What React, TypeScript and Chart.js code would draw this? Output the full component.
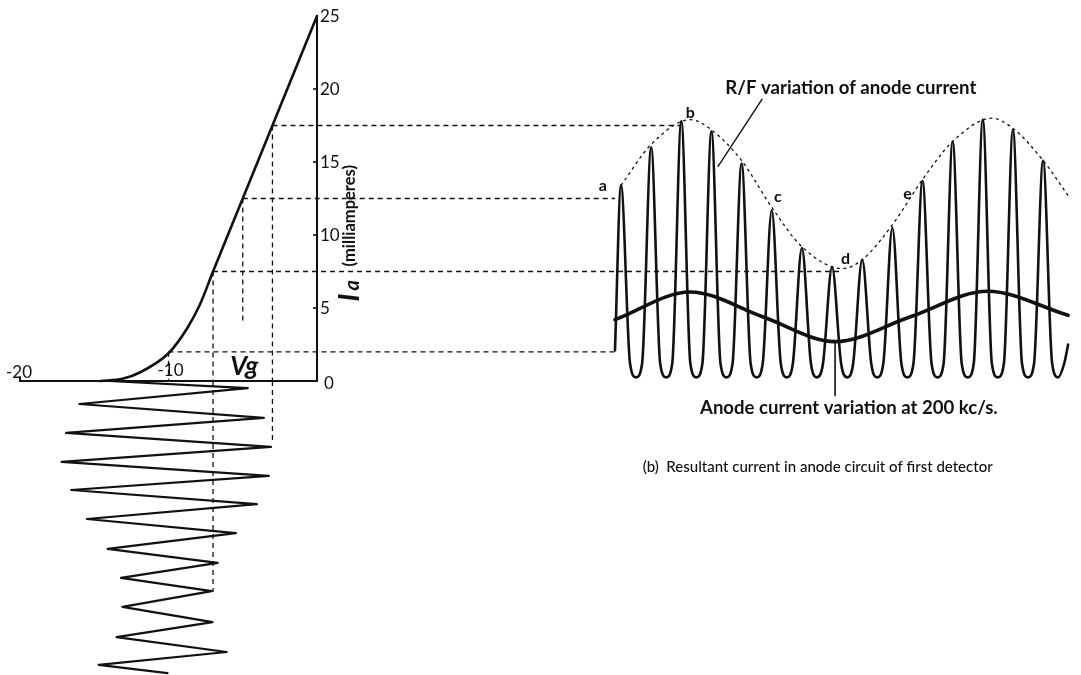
import React, { useEffect, useRef } from "react";
import { Chart, registerables } from "chart.js";
Chart.register(...registerables);

const W = 1081;
const H = 675;

// ---------- Left: mutual characteristic Ia (mA) against Vg (volts) ----------
const charVg = [-14.6, -13.1, -11.9, -10.0, -8.75, -7.9, -7.0, -5.0, -3.0, 0];
const charIa = [0, 0.15, 0.6, 1.9, 3.6, 5.2, 7.5, 12.5, 17.5, 25];

const yTickValues = [0, 5, 10, 15, 20, 25];
const yTickLabels = ["0", "5", "10", "15", "20", "25"];
const xTickValues = [-20, -10];
const xTickLabels = ["-20", "-10"];

// ---------- Grid-voltage input (zig-zag), time in carrier cycles downwards ----------
const zigStartVg = -14.0;
const zigStartT = 0.0;
const zigRightT = [0.24, 1.26, 2.25, 3.24, 4.2, 5.19, 6.21, 7.17, 8.23, 9.25];
const zigRightVg = [-4.66, -3.58, -3.1, -3.24, -4.05, -5.47, -6.69, -7.09, -7.03, -6.08];
const zigLeftT = [0.785, 1.77, 2.76, 3.72, 4.71, 5.73, 6.72, 7.71, 8.74, 9.69];
const zigLeftVg = [-16.0, -16.9, -17.2, -16.55, -15.5, -14.1, -13.2, -13.1, -13.5, -14.7];
const zigEndVg = -10.07;
const zigEndT = 9.97;

// ---------- Right: resultant anode current, time in carrier cycles ----------
const pulseT = [0, 1, 2, 3, 4, 5, 6, 7, 8, 9, 10, 11, 12, 13, 14];
const pulsePeakIa = [13.4, 16.0, 17.8, 17.1, 14.9, 11.7, 9.1, 7.8, 8.3, 10.5, 13.7, 16.4, 17.9, 17.2, 15.1];
const kneeOffsets = [0.3, 0.5, 0.7];
const kneeIa = [1.2, 0.25, 1.2];
const waveStartT = -0.2;
const waveStartIa = 2.1;
const waveEndT = 14.83;
const waveEndIa = 2.5;

// R/F envelope (dotted)
const envT = [0, 1, 2.3, 3, 4, 5, 6, 7.35, 8, 9, 10, 11, 12.3, 13, 14, 14.83];
const envIa = [13.4, 16.2, 17.9, 17.2, 15.1, 11.9, 9.2, 7.7, 8.3, 10.7, 13.8, 16.4, 18.0, 17.3, 15.1, 12.7];

// Mean anode current at 200 kc/s (thick)
const meanT = [-0.2, 2.3, 4.7, 7.1, 9.6, 12.15, 14.83];
const meanIa = [4.2, 6.1, 4.4, 2.7, 4.4, 6.15, 4.5];

// Projection lines
const hConnIa = [17.5, 12.5, 7.5, 2.0];
const hConnStartVg = [-3, -5, -7, -10];
const hConnEndT = [1.95, -0.2, 7.3, -0.2];
const vConnVg = [-3, -5, -7, -10];
const vConnTopIa = [17.5, 12.5, 7.5, 2.0];
const vConnBottomIa = [0, 3.9, 0, 0];
const vConnZigT = [2.08, null, 7.2, null];

// Pointers (label leaders)
const rfPointerT = [4.68, 3.22];
const rfPointerIa = [19.3, 14.7];
const meanPointerT = [7.1, 7.1];
const meanPointerIa = [2.7, -1.0];

// Letters on the envelope
const letterText = ["a", "b", "c", "d", "e"];
const letterT = [-0.6, 2.3, 5.2, 7.45, 9.5];
const letterIa = [13.4, 18.4, 12.6, 8.4, 12.8];

const INK = "#111111";
const FONT = "Lato, 'DejaVu Sans', sans-serif";

function buildWave() {
  const pts: { x: number; y: number }[] = [{ x: waveStartT, y: waveStartIa }];
  pulseT.forEach((t, i) => {
    pts.push({ x: t, y: pulsePeakIa[i] });
    kneeOffsets.forEach((o, j) => pts.push({ x: t + o, y: kneeIa[j] }));
  });
  pts.push({ x: waveEndT, y: waveEndIa });
  return pts;
}

function buildZig() {
  const pts: { x: number; y: number }[] = [{ x: zigStartVg, y: zigStartT }];
  zigRightT.forEach((t, i) => {
    pts.push({ x: zigRightVg[i], y: t });
    pts.push({ x: zigLeftVg[i], y: zigLeftT[i] });
  });
  pts.push({ x: zigEndVg, y: zigEndT });
  return pts;
}

function fillFit(ctx: CanvasRenderingContext2D, text: string, x: number, y: number, width: number, weight: string) {
  ctx.font = `${weight} 20px ${FONT}`;
  const w = ctx.measureText(text).width;
  const size = (20 * width) / w;
  ctx.font = `${weight} ${size.toFixed(2)}px ${FONT}`;
  ctx.fillText(text, x, y);
}

const annotPlugin = {
  id: "annot",
  beforeDatasetsDraw(chart: any) {
    const ctx = chart.ctx;
    const xV = chart.scales.xV, yI = chart.scales.yI, xT = chart.scales.xT;
    ctx.save();
    ctx.strokeStyle = INK;
    ctx.lineWidth = 1.3;
    ctx.setLineDash([5, 4]);
    hConnIa.forEach((lv, i) => {
      const y = yI.getPixelForValue(lv);
      ctx.beginPath();
      ctx.moveTo(xV.getPixelForValue(hConnStartVg[i]), y);
      ctx.lineTo(xT.getPixelForValue(hConnEndT[i]), y);
      ctx.stroke();
    });
    ctx.setLineDash([]);
    // small tick marks on the Ia axis
    ctx.lineWidth = 1.6;
    yTickValues.forEach((v) => {
      if (v === 0 || v === 25) return;
      const y = yI.getPixelForValue(v);
      const x = xV.getPixelForValue(0);
      ctx.beginPath();
      ctx.moveTo(x - 4, y);
      ctx.lineTo(x, y);
      ctx.stroke();
    });
    ctx.restore();
  },
  afterDatasetsDraw(chart: any) {
    const ctx = chart.ctx;
    const xV = chart.scales.xV, yI = chart.scales.yI, xT = chart.scales.xT;
    ctx.save();
    ctx.fillStyle = INK;
    ctx.textBaseline = "middle";
    // Ia tick labels
    ctx.font = `17px ${FONT}`;
    ctx.textAlign = "left";
    yTickValues.forEach((v, i) => {
      const y = yI.getPixelForValue(v) + (v === 0 ? 3 : 1);
      ctx.fillText(yTickLabels[i], xV.getPixelForValue(0) + (v === 0 ? 7 : 3), y);
    });
    // Vg tick labels
    ctx.textAlign = "center";
    xTickValues.forEach((v, i) => {
      const x = xV.getPixelForValue(v);
      const y = yI.getPixelForValue(0) - (v === -20 ? 8 : 10);
      ctx.fillText(xTickLabels[i], v === -20 ? x - 1 : x + 2, y);
    });
    // Vg label
    ctx.font = `italic bold 26px ${FONT}`;
    ctx.fillText("Vg", xV.getPixelForValue(-4.9), yI.getPixelForValue(0) - 14);
    // Ia (milliamperes) rotated
    ctx.save();
    ctx.translate(xV.getPixelForValue(2.25), yI.getPixelForValue(5.45));
    ctx.rotate(-Math.PI / 2);
    ctx.textAlign = "left";
    ctx.font = `italic bold 28px ${FONT}`;
    ctx.fillText("I", 0, 0);
    ctx.font = `italic bold 20px ${FONT}`;
    ctx.fillText("a", 11, 2);
    ctx.font = `bold 16.5px ${FONT}`;
    ctx.fillText("(milliamperes)", 35, -1);
    ctx.restore();
    // letters
    ctx.font = `bold 16px ${FONT}`;
    ctx.textAlign = "center";
    letterText.forEach((s, i) => {
      ctx.fillText(s, xT.getPixelForValue(letterT[i]), yI.getPixelForValue(letterIa[i]));
    });
    // captions
    ctx.textAlign = "left";
    fillFit(ctx, "R/F variation of anode current", xT.getPixelForValue(3.46), yI.getPixelForValue(20.1), 251, "bold");
    fillFit(ctx, "Anode current variation at 200 kc/s.", xT.getPixelForValue(2.62), yI.getPixelForValue(-1.85), 298, "bold");
    fillFit(ctx, "(b)  Resultant current in anode circuit of first detector", xT.getPixelForValue(0.72), yI.getPixelForValue(-5.9), 350, "500");
    ctx.restore();
  },
};

export default function App() {
  const ref = useRef<HTMLCanvasElement | null>(null);
  useEffect(() => {
    document.body.style.margin = "0";
    document.body.style.overflow = "hidden";
    document.body.style.background = "#ffffff";
    const canvas = ref.current;
    if (!canvas) return;

    const vUpper: any[] = [];
    const vLower: any[] = [];
    vConnVg.forEach((vg, i) => {
      vUpper.push({ x: vg, y: vConnTopIa[i] }, { x: vg, y: vConnBottomIa[i] }, { x: vg, y: null });
      const zt = vConnZigT[i];
      if (zt !== null) vLower.push({ x: vg, y: 0 }, { x: vg, y: zt }, { x: vg, y: null });
    });

    const line = (extra: any) => ({
      type: "line",
      borderColor: INK,
      backgroundColor: INK,
      pointRadius: 0,
      pointHoverRadius: 0,
      fill: false,
      tension: 0,
      spanGaps: false,
      borderJoinStyle: "round",
      borderCapStyle: "round",
      ...extra,
    });

    const chart = new Chart(canvas, {
      type: "line",
      data: {
        datasets: [
          line({
            label: "axes",
            xAxisID: "xV",
            yAxisID: "yI",
            borderWidth: 2,
            borderJoinStyle: "miter",
            data: [
              { x: -20, y: 0.25 },
              { x: -20, y: 0 },
              { x: 0, y: 0 },
              { x: 0, y: 25 },
            ],
          }),
          line({
            label: "characteristic",
            xAxisID: "xV",
            yAxisID: "yI",
            borderWidth: 2.6,
            cubicInterpolationMode: "monotone",
            data: charVg.map((v, i) => ({ x: v, y: charIa[i] })),
          }),
          line({
            label: "grid input",
            xAxisID: "xV",
            yAxisID: "yT",
            borderWidth: 2.2,
            data: buildZig(),
          }),
          line({
            label: "projection upper",
            xAxisID: "xV",
            yAxisID: "yI",
            borderWidth: 1.3,
            borderDash: [5, 4],
            borderCapStyle: "butt",
            data: vUpper,
          }),
          line({
            label: "projection lower",
            xAxisID: "xV",
            yAxisID: "yT",
            borderWidth: 1.3,
            borderDash: [5, 4],
            borderCapStyle: "butt",
            data: vLower,
          }),
          line({
            label: "anode current",
            xAxisID: "xT",
            yAxisID: "yI",
            borderWidth: 2.6,
            cubicInterpolationMode: "monotone",
            data: buildWave(),
          }),
          line({
            label: "R/F envelope",
            xAxisID: "xT",
            yAxisID: "yI",
            borderWidth: 1.3,
            borderDash: [3, 3.5],
            borderCapStyle: "butt",
            cubicInterpolationMode: "monotone",
            data: envT.map((t, i) => ({ x: t, y: envIa[i] })),
          }),
          line({
            label: "mean current",
            xAxisID: "xT",
            yAxisID: "yI",
            borderWidth: 3.6,
            cubicInterpolationMode: "monotone",
            data: meanT.map((t, i) => ({ x: t, y: meanIa[i] })),
          }),
          line({
            label: "rf pointer",
            xAxisID: "xT",
            yAxisID: "yI",
            borderWidth: 1.4,
            data: rfPointerT.map((t, i) => ({ x: t, y: rfPointerIa[i] })),
          }),
          line({
            label: "mean pointer",
            xAxisID: "xT",
            yAxisID: "yI",
            borderWidth: 1.6,
            data: meanPointerT.map((t, i) => ({ x: t, y: meanPointerIa[i] })),
          }),
        ] as any,
      },
      options: {
        animation: false,
        responsive: false,
        maintainAspectRatio: false,
        events: [],
        layout: { padding: 0 },
        plugins: {
          legend: { display: false },
          tooltip: { enabled: false },
          title: { display: false },
        },
        scales: {
          xV: { type: "linear", display: false, min: -317 / 14.85, max: (W - 317) / 14.85 },
          yI: { type: "linear", display: false, min: -(H - 381) / 14.6, max: 381 / 14.6 },
          xT: { type: "linear", display: false, min: -621 / 30.15, max: (W - 621) / 30.15 },
          yT: { type: "linear", display: false, reverse: true, min: -381 / 29.3, max: (H - 381) / 29.3 },
        },
      } as any,
      plugins: [annotPlugin],
    });
    return () => chart.destroy();
  }, []);

  return (
    <div style={{ width: W, height: H, background: "#fff" }}>
      <canvas ref={ref} width={W} height={H} style={{ display: "block", width: W, height: H }} />
    </div>
  );
}
